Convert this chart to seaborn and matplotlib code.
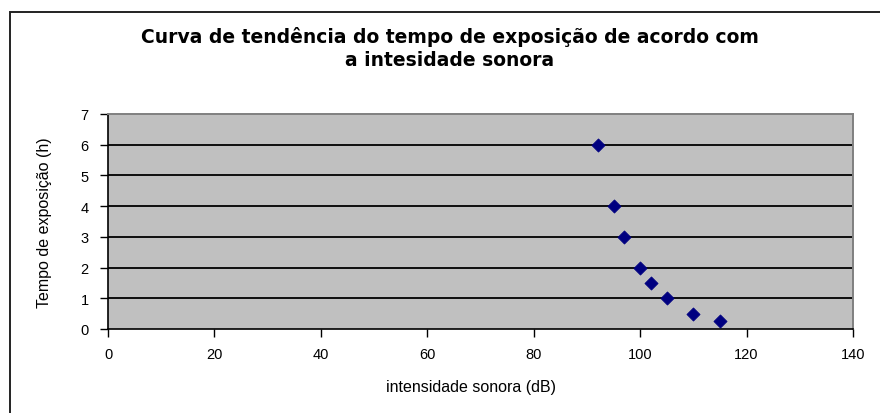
import matplotlib
matplotlib.use("Agg")
import matplotlib.pyplot as plt
import seaborn as sns
import pandas as pd
from matplotlib.patches import Rectangle

# data
intensidade = [92, 95, 97, 100, 102, 105, 110, 115]
tempo = [6, 4, 3, 2, 1.5, 1, 0.5, 0.25]
x_ticks = [0, 20, 40, 60, 80, 100, 120, 140]
y_ticks = [0, 1, 2, 3, 4, 5, 6, 7]

df = pd.DataFrame({"intensidade": intensidade, "tempo": tempo})

sns.set_style("white")
plt.rcParams["font.family"] = ["Liberation Sans", "DejaVu Sans"]
plt.rcParams["text.color"] = "black"
plt.rcParams["axes.labelcolor"] = "black"
plt.rcParams["xtick.color"] = "black"
plt.rcParams["ytick.color"] = "black"

fig = plt.figure(figsize=(8.8, 4.14), dpi=100)
ax = fig.add_axes([108 / 880, 1 - 330 / 414, 745 / 880, 215 / 414])

# outer chart border (runs off the right and bottom edges)
fig.patches.append(Rectangle((10 / 880, -0.05), 1.0, 1 - 13 / 414 + 0.05,
                             transform=fig.transFigure, fill=False,
                             edgecolor="#222222", linewidth=1.4))

ax.set_facecolor("#c0c0c0")
for y in y_ticks[1:-1]:
    ax.axhline(y, color="black", linewidth=1.3, zorder=1)

sns.scatterplot(data=df, x="intensidade", y="tempo", marker="D", s=45,
                color="#000080", edgecolor="#000080", ax=ax, zorder=3)

ax.set_xlim(0, 140)
ax.set_ylim(0, 7)
ax.set_xticks(x_ticks)
ax.set_yticks(y_ticks)
ax.tick_params(axis="both", direction="out", length=6, width=1, color="black",
               labelsize=10.5, left=True, bottom=True)
ax.tick_params(axis="y", pad=8)
ax.tick_params(axis="x", pad=7)

for side in ["top", "right"]:
    ax.spines[side].set_color("#808080")
    ax.spines[side].set_linewidth(1.4)
for side in ["left", "bottom"]:
    ax.spines[side].set_color("black")
    ax.spines[side].set_linewidth(1.2)

ax.set_xlabel("intensidade sonora (dB)", fontsize=11.5)
ax.set_ylabel("Tempo de exposição (h)", fontsize=11.5)
ax.xaxis.set_label_coords(0.5 - 10 / 745, (330 - 380) / 215)
ax.yaxis.set_label_coords((52 - 108) / 745, 0.5)

fig.text(450 / 880, 1 - 37 / 414, "Curva de tendência do tempo de exposição de acordo com",
         ha="center", va="center", fontsize=13.5, fontweight="bold",
         family=["DejaVu Sans"])
fig.text(450 / 880, 1 - 60 / 414, "a intesidade sonora",
         ha="center", va="center", fontsize=13.5, fontweight="bold",
         family=["DejaVu Sans"])

fig.savefig("out.png", dpi=100)
